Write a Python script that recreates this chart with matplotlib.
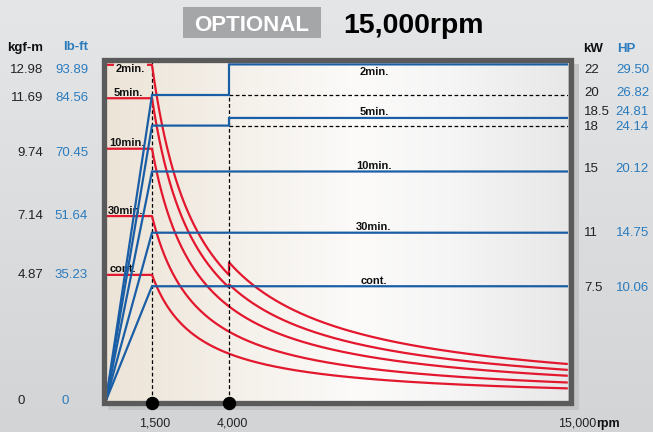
import numpy as np
import matplotlib
matplotlib.use('Agg')
import matplotlib.pyplot as plt
import matplotlib.transforms as mtransforms
from matplotlib.colors import LinearSegmentedColormap
from matplotlib.patches import Rectangle

plt.rcParams['font.family'] = ['Liberation Sans', 'DejaVu Sans']

# ---------------- data ----------------
ratings = ['2min.', '5min.', '10min.', '30min.', 'cont.']
base_rpm = 1500
step_rpm = 4000
max_rpm = 15000
power_low_kw = [20, 18, 15, 11, 7.5]       # kW from 1,500 to 4,000 rpm
power_high_kw = [22, 18.5, 15, 11, 7.5]    # kW above 4,000 rpm
torque_kgfm = [12.98, 11.69, 9.74, 7.14, 4.87]
torque_lbft = ['93.89', '84.56', '70.45', '51.64', '35.23']
kw_ticks = [22, 20, 18.5, 18, 15, 11, 7.5]
kw_tick_labels = ['22', '20', '18.5', '18', '15', '11', '7.5']
hp_tick_labels = ['29.50', '26.82', '24.81', '24.14', '20.12', '14.75', '10.06']
rpm_ticks = [1500, 4000]
rpm_tick_labels = ['1,500', '4,000']
max_rpm_label = '15,000'

# ---------------- style ----------------
RED = '#e3172d'
BLUE = '#1a5ea6'
LBLUE = '#2b7bbd'
FRAME = '#5a5a5a'
W, H = 653, 432
PT = 72 / 100.0  # points per pixel

fig = plt.figure(figsize=(W / 100, H / 100), dpi=100)

# background axes (pixel coordinates)
bg = fig.add_axes([0, 0, 1, 1], zorder=-2)
bg.set_xlim(0, W); bg.set_ylim(H, 0); bg.axis('off')
grad = np.linspace(0, 1, 200).reshape(-1, 1)
bg.imshow(grad, cmap=LinearSegmentedColormap.from_list('bg', ['#e4e6e8', '#d2d4d6']),
          extent=[0, W, H, 0], aspect='auto')
bg.add_patch(Rectangle((108, 64), 579 - 108, 410 - 64, facecolor='#c2c4c6', edgecolor='none'))
bg.add_patch(Rectangle((183, 7), 138, 30.7, facecolor='#a5a6a8', edgecolor='none'))
bg.text(252, 30.7, 'OPTIONAL', color='white', fontsize=16, fontweight='bold',
        ha='center', va='baseline')
bg.text(343, 33, '15,000rpm', color='black', fontsize=20.5, fontweight='bold',
        ha='left', va='baseline')

# main axes
T_MAX = 339 / 25.9
P_MAX = 339 / 15.3
ax = fig.add_axes([105.8 / W, (H - 401) / H, 462 / W, 339 / H], zorder=1)
ax.set_xlim(0, max_rpm); ax.set_ylim(0, T_MAX)
ax.set_axis_off()
hgrad = np.linspace(0, 1, 400).reshape(1, -1)
plot_cmap = LinearSegmentedColormap.from_list(
    'plotbg', [(0.0, '#ede4d8'), (0.1, '#efe8dd'), (0.3, '#f5f1eb'),
               (0.55, '#fcfbfa'), (0.75, '#f5f5f5'), (1.0, '#e8e8e8')])
ax.imshow(hgrad, cmap=plot_cmap, extent=[0, max_rpm, 0, T_MAX], aspect='auto', zorder=0)

axp = ax.twinx()
axp.set_ylim(0, P_MAX)
axp.set_axis_off()

# red torque curves (constant torque, then constant power: T = T0 * 1500 / n)
for T0, pl, ph in zip(torque_kgfm, power_low_kw, power_high_kw):
    n1 = np.linspace(base_rpm, step_rpm, 300)
    n2 = np.linspace(step_rpm, max_rpm, 600)
    xs = np.concatenate([[0, base_rpm], n1, n2])
    ys = np.concatenate([[T0, T0], T0 * base_rpm / n1, T0 * (ph / pl) * base_rpm / n2])
    ax.plot(xs, ys, color=RED, lw=1.6, zorder=3, solid_capstyle='butt')

# dashed guides
ax.plot([base_rpm, base_rpm], [0, T_MAX], color='black', lw=0.9, ls=(0, (3, 2)), zorder=2)
axp.plot([step_rpm, step_rpm], [0, power_low_kw[0]], color='black', lw=0.9,
         ls=(0, (3, 2)), zorder=2)
for pl, ph in zip(power_low_kw, power_high_kw):
    if pl != ph:
        axp.plot([step_rpm, max_rpm], [pl, pl], color='black', lw=0.9,
                 ls=(0, (3, 2)), zorder=2)

# blue power curves
for pl, ph in zip(power_low_kw, power_high_kw):
    axp.plot([0, base_rpm, step_rpm, step_rpm, max_rpm], [0, pl, pl, ph, ph],
             color=BLUE, lw=1.6, zorder=4, solid_joinstyle='miter')

# in-plot labels (left, torque)
left_dx = [10, 8, 3, 2, 4]
for i, (lab, T0) in enumerate(zip(ratings, torque_kgfm)):
    if i == 0:
        ax.annotate(lab, (0, T0), xytext=(left_dx[i] * PT, -4.5 * PT),
                    textcoords='offset points', ha='left', va='center',
                    fontsize=8, fontweight='bold', color='#111111', zorder=6,
                    bbox=dict(boxstyle='square,pad=0.15', fc='#eee6da', ec='none'))
    else:
        ax.annotate(lab, (0, T0), xytext=(left_dx[i] * PT, 2.5 * PT),
                    textcoords='offset points', ha='left', va='baseline',
                    fontsize=8, fontweight='bold', color='#111111', zorder=6)

# in-plot labels (right, power)
lab_x = (374 - 105.8) / 462 * max_rpm
for i, (lab, ph) in enumerate(zip(ratings, power_high_kw)):
    if i == 0:
        axp.annotate(lab, (lab_x, ph), xytext=(0, -2.5 * PT), textcoords='offset points',
                     ha='center', va='top', fontsize=8, fontweight='bold', color='#111111')
    else:
        axp.annotate(lab, (lab_x, ph), xytext=(0, 2.5 * PT), textcoords='offset points',
                     ha='center', va='baseline', fontsize=8, fontweight='bold', color='#111111')

# overlay: frame and dots
ov = fig.add_axes([0, 0, 1, 1], zorder=5)
ov.set_xlim(0, W); ov.set_ylim(H, 0); ov.axis('off')
ov.patch.set_alpha(0)
ov.add_patch(Rectangle((104.2, 60), 570.5 - 104.2, 403 - 60, facecolor='none',
                       edgecolor=FRAME, lw=5.3 * PT, joinstyle='miter'))
dot_tr = ax.transData + mtransforms.ScaledTranslation(0, -2 / 100, fig.dpi_scale_trans)
ov.plot(rpm_ticks, [0] * len(rpm_ticks), 'o', color='black', ms=12 * PT,
        transform=dot_tr, clip_on=False, zorder=10)

# left axis labels
fx = lambda px: px / W
tl = mtransforms.blended_transform_factory(fig.transFigure, ax.transData)
fig.text(fx(43), (H - 47.5) / H, 'kgf-m', ha='right', va='center', fontsize=9.5,
         fontweight='bold', color='#111111')
fig.text(fx(88), (H - 47.5) / H, 'lb-ft', ha='right', va='center', fontsize=9.5,
         fontweight='bold', color=LBLUE)
torque_dy = [-5, 0, -4, 0, 0]
for T0, lb, dy in zip(torque_kgfm, torque_lbft, torque_dy):
    off = mtransforms.ScaledTranslation(0, dy / 100, fig.dpi_scale_trans)
    fig.text(fx(43), T0, f'{T0:.2f}', transform=tl + off, ha='right', va='center',
             fontsize=9.5, color='#222222')
    fig.text(fx(88), T0, lb, transform=tl + off, ha='right', va='center',
             fontsize=9.5, color=LBLUE)
fig.text(fx(17), 0, '0', transform=tl, ha='left', va='center', fontsize=9.5, color='#222222')
fig.text(fx(61), 0, '0', transform=tl, ha='left', va='center', fontsize=9.5, color=LBLUE)

# right axis labels
tr = mtransforms.blended_transform_factory(fig.transFigure, axp.transData)
fig.text(fx(583), (H - 49.5) / H, 'kW', ha='left', va='center', fontsize=9.5,
         fontweight='bold', color='#111111')
fig.text(fx(617), (H - 49.5) / H, 'HP', ha='left', va='center', fontsize=9.5,
         fontweight='bold', color=LBLUE)
kw_dy = [-6, 2, 6, -1, 2, 0, -2]
for p, kl, hl, dy in zip(kw_ticks, kw_tick_labels, hp_tick_labels, kw_dy):
    off = mtransforms.ScaledTranslation(0, dy / 100, fig.dpi_scale_trans)
    fig.text(fx(584), p, kl, transform=tr + off, ha='left', va='center',
             fontsize=9.5, color='#222222')
    fig.text(fx(649), p, hl, transform=tr + off, ha='right', va='center',
             fontsize=9.5, color=LBLUE)

# bottom rpm labels
tb = mtransforms.blended_transform_factory(ax.transData, fig.transFigure)
lab_off = mtransforms.ScaledTranslation(3 / 100, 0, fig.dpi_scale_trans)
for r, lab in zip(rpm_ticks, rpm_tick_labels):
    fig.text(r, (H - 424) / H, lab, transform=tb + lab_off, ha='center', va='center',
             fontsize=9, color='#222222')
fig.text(fx(596), (H - 424) / H, max_rpm_label, ha='right', va='center', fontsize=9,
         color='#222222')
fig.text(fx(596), (H - 424) / H, 'rpm', ha='left', va='center', fontsize=9,
         fontweight='bold', color='#111111')

fig.savefig('out.png', dpi=100)
